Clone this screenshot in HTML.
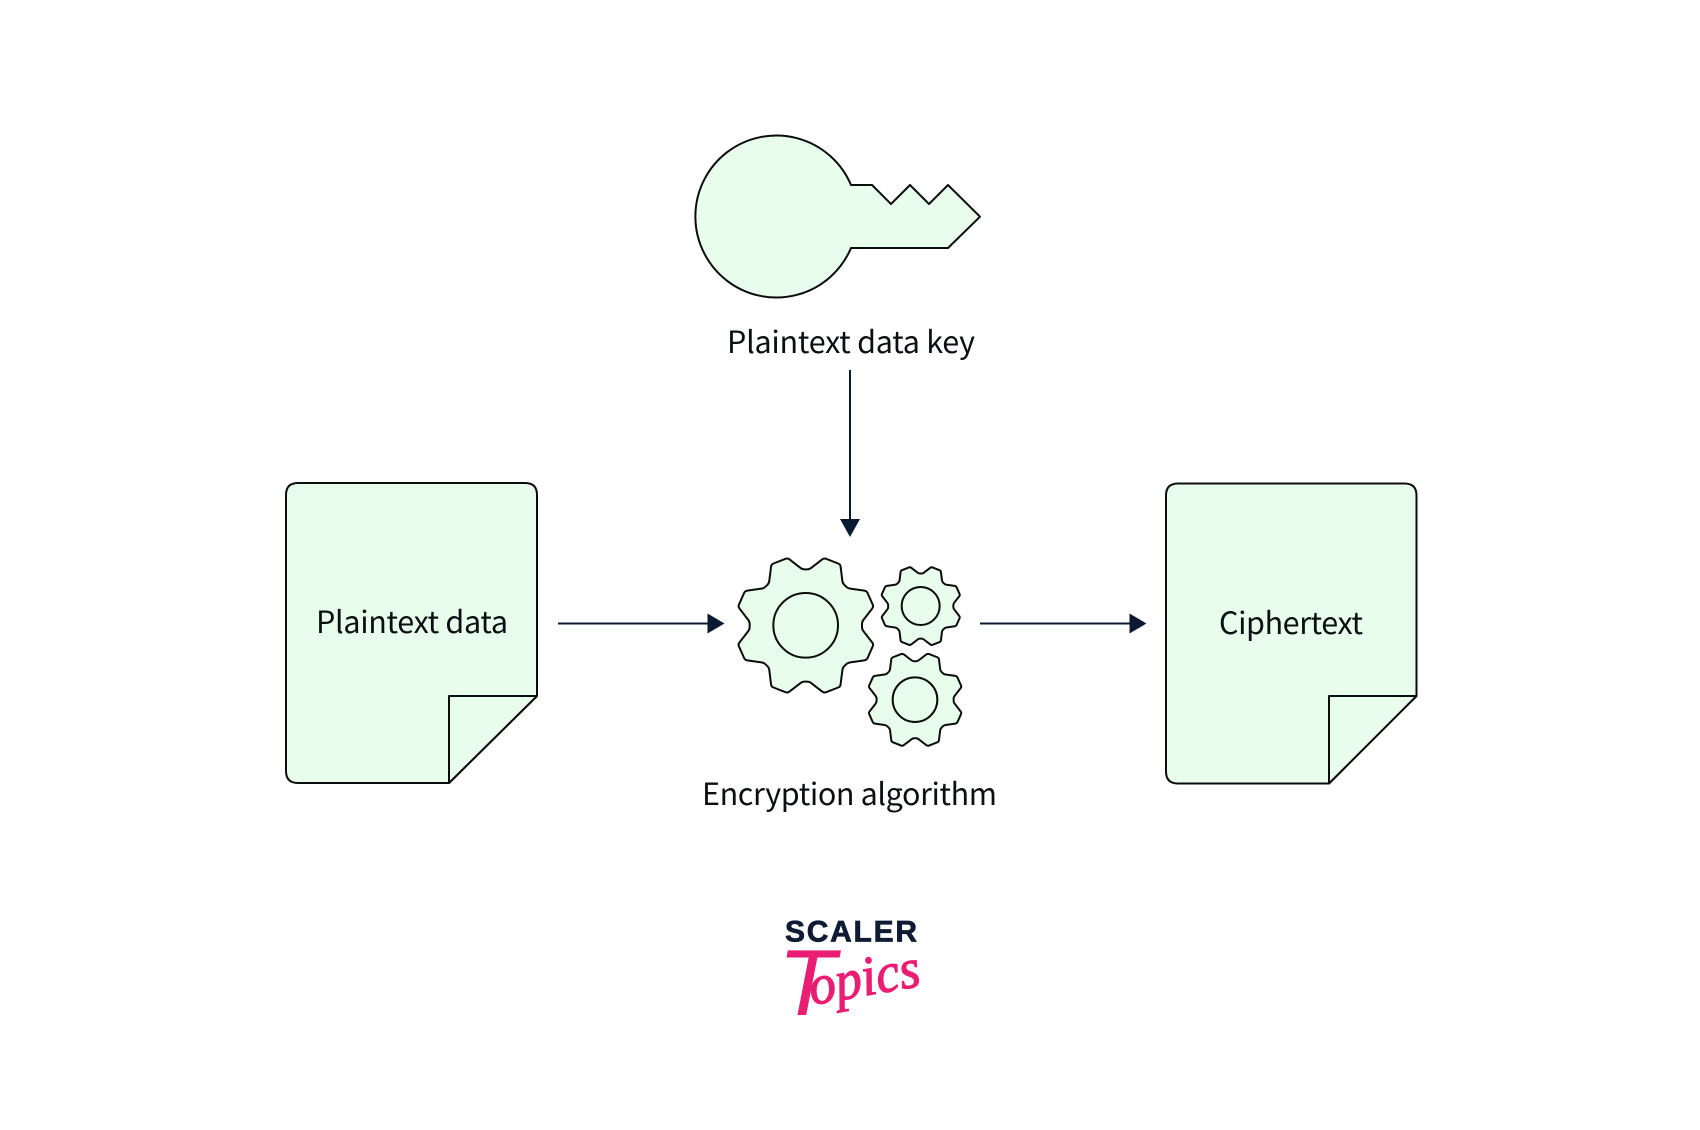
<!DOCTYPE html>
<html lang="en">
<head>
<meta charset="utf-8">
<title>Encryption diagram</title>
<style>
html,body{margin:0;padding:0;background:#fff;width:1700px;height:1130px;overflow:hidden}
svg{display:block}
.s{fill:#e8fdec;stroke:#0c0c0c;stroke-width:2;stroke-linejoin:round}
.t{font-family:"Noto Sans CJK JP","Liberation Sans",sans-serif;font-size:30.5px;fill:#0b0f14}
</style>
</head>
<body>
<svg width="1700" height="1130" viewBox="0 0 1700 1130" xmlns="http://www.w3.org/2000/svg">
<defs>
<path id="g" vector-effect="non-scaling-stroke" d="M253,88 L262,88 Q268,88 273.5,83.7 L306.5,58.3 Q312,54 318.5,56.5 L354.5,70.5 Q361,73 361.8,80 L367.2,123 Q368,130 373,134.8 L380.3,141.6 Q384,145 391,146 L433,152 Q440,153 442.9,159.4 L458.1,193.6 Q461,200 456.7,205.5 L430.3,239.5 Q426,245 426,252 L426,261 Q426,268 430.3,273.5 L456.7,307.5 Q461,313 458.1,319.4 L442.9,353.6 Q440,360 433,361 L391,367 Q384,368 380.3,371.4 L373,378.2 Q368,383 367.2,390 L361.8,433 Q361,440 354.5,442.5 L318.5,456.5 Q312,459 306.5,454.7 L273.5,429.3 Q268,425 262,425 L253,425 Q247,425 241.5,429.3 L208.5,454.7 Q203,459 196.5,456.5 L160.5,442.5 Q154,440 153.2,433 L147.8,390 Q147,383 142,378.2 L134.7,371.4 Q131,368 124,367 L82,361 Q75,360 72.1,353.6 L56.9,319.4 Q54,313 58.3,307.5 L84.7,273.5 Q89,268 89,261 L89,252 Q89,245 84.7,239.5 L58.3,205.5 Q54,200 56.9,193.6 L72.1,159.4 Q75,153 82,152 L124,146 Q131,145 134.7,141.6 L142,134.8 Q147,130 147.8,123 L153.2,80 Q154,73 160.5,70.5 L196.5,56.5 Q203,54 208.5,58.3 L241.5,83.7 Q247,88 253,88 Z"/>
</defs>

<!-- key -->
<path class="s" d="M851,185 A81,81 0 1 0 851,248 H948 L980,216.7 L948,185 L929,204 L910,185 L891,204 L872,185 Z"/>
<text class="t" x="727" y="353" textLength="248">Plaintext data key</text>

<!-- arrow down -->
<line x1="850" y1="370" x2="850" y2="520" stroke="#0b1a33" stroke-width="2"/>
<polygon points="840,519 860,519 850,537" fill="#0b1a33"/>

<!-- left doc -->
<path class="s" d="M298,483 H525 Q537,483 537,495 V696 L449,783 H298 Q286,783 286,771 V495 Q286,483 298,483 Z"/>
<path class="s" d="M537,696 H449 V783 Z"/>
<text class="t" x="316" y="633" textLength="192">Plaintext data</text>

<!-- arrow 1 -->
<line x1="558" y1="623.5" x2="708" y2="623.5" stroke="#0b1a33" stroke-width="2"/>
<polygon points="707.5,613.5 707.5,633.5 724.5,623.5" fill="#0b1a33"/>

<!-- gears -->
<g transform="translate(720,540) scale(0.33333)">
  <use href="#g" class="s"/>
  <circle cx="257" cy="256" r="97" fill="none" stroke="#0c0c0c" stroke-width="6"/>
  <g transform="translate(602,198) scale(0.58) translate(-257,-256)"><use href="#g" class="s"/></g>
  <circle cx="602" cy="198" r="57" fill="none" stroke="#0c0c0c" stroke-width="6"/>
  <g transform="translate(585,479) scale(0.686) translate(-257,-256)"><use href="#g" class="s"/></g>
  <circle cx="585" cy="479" r="67" fill="none" stroke="#0c0c0c" stroke-width="6"/>
</g>
<text class="t" x="702" y="805" textLength="295">Encryption algorithm</text>

<!-- arrow 2 -->
<line x1="980" y1="623.5" x2="1130" y2="623.5" stroke="#0b1a33" stroke-width="2"/>
<polygon points="1129.5,613.5 1129.5,633.5 1146.5,623.5" fill="#0b1a33"/>

<!-- right doc -->
<path class="s" d="M1178,483.5 H1404.5 Q1416.5,483.5 1416.5,495.5 V696 L1329,783.5 H1178 Q1166,783.5 1166,771.5 V495.5 Q1166,483.5 1178,483.5 Z"/>
<path class="s" d="M1416.5,696 H1329 V783.5 Z"/>
<text class="t" x="1219" y="634" textLength="144">Ciphertext</text>

<!-- logo -->
<text x="785" y="941.5" textLength="132" font-family="'Liberation Sans',sans-serif" font-weight="700" font-size="30" fill="#0e1b33" stroke="#0e1b33" stroke-width="0.7">SCALER</text>
<text x="778" y="1015" font-family="'Liberation Sans',sans-serif" font-style="italic" font-size="94" fill="#e91e73">T</text>
<text x="812" y="1005" transform="rotate(-10 812 1005)" textLength="112" lengthAdjust="spacingAndGlyphs" font-family="'Liberation Serif',serif" font-style="italic" font-size="56" fill="#e91e73" stroke="#e91e73" stroke-width="1.2">opics</text>
</svg>
</body>
</html>
